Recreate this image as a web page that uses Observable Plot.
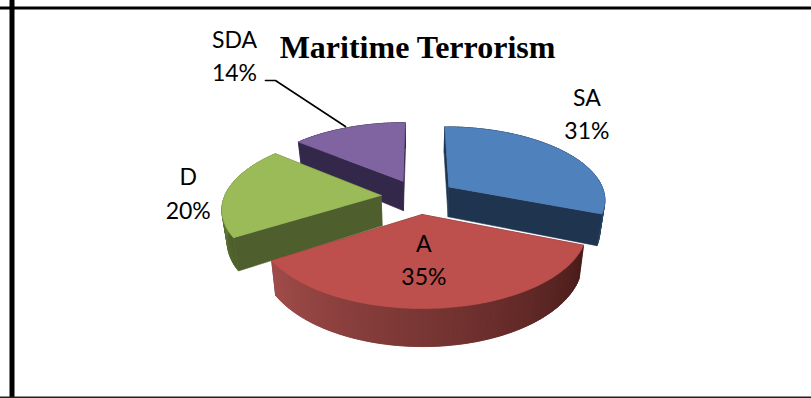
<!DOCTYPE html>
<html>
<head>
<meta charset="utf-8">
<style>html,body{margin:0;padding:0;background:#fff}svg{display:block}</style>
<script src="https://cdn.jsdelivr.net/npm/d3@7"></script>
<script src="https://cdn.jsdelivr.net/npm/@observablehq/plot@0.6"></script>
</head>
<body>
<script>
// Responses on maritime terrorism, in percent
const categories = ["SA", "A", "D", "SDA"];
const shares = [31, 35, 20, 14];
const chartTitle = "Maritime Terrorism";

// Face colours per slice: top, cut side, rim at its clockwise start and end
const topColors = ["#4f81bd", "#bd4f4c", "#9bbb59", "#8064a2"];
const cutColors = ["#1f344f", "#4f1f1e", "#4e5f2d", "#33274a"];
const rimStart = ["#1f344f", "#4a1c1a", "#4e5f2d", "#33274a"];
const rimEnd = ["#2a4668", "#a04c4a", "#7d9a44", "#33274a"];

// Oblique view of the exploded pie
const view = {cx: 418, cy: 196, rx: 156.5, ry: 72.5, persp: 0.16, depth: 30.5, converge: 0.973, explode: 0.24};
const width = 811, height = 398;

// Maps a point on the pie's plane to chart units; z is 0 on top and 1 on the base
function project(u, v, z = 0) {
  const w = 1 + view.persp * v;
  const shrink = z ? view.converge : 1;
  return {
    x: view.cx + (view.rx * u / w) * shrink,
    y: view.cy - (view.ry * v) / w + (z * view.depth) / w
  };
}

// Slice angles run clockwise from twelve o'clock
const total = d3.sum(shares);
let running = 0;
const slices = categories.map((name, i) => {
  const a0 = (running / total) * 2 * Math.PI;
  running += shares[i];
  const a1 = (running / total) * 2 * Math.PI;
  const mid = (a0 + a1) / 2;
  return {name, share: shares[i], i, a0, a1, mid,
    ox: view.explode * Math.sin(mid), oy: view.explode * Math.cos(mid)};
});

const rimAt = (s, a, z = 0) => project(s.ox + Math.sin(a), s.oy + Math.cos(a), z);
const apexAt = (s, z = 0) => project(s.ox, s.oy, z);

// Builds every face back to front as closed outlines
const points = [];
let faceId = 0;
function addFace(outline, color) {
  const id = faceId++;
  for (const p of [...outline, outline[0]]) points.push({x: p.x, y: p.y, id, color});
}

for (const s of [slices[3], slices[0], slices[2], slices[1]]) {
  // A cut side faces the viewer when its outward normal points down the plane
  const cuts = [
    {a: s.a0, toward: Math.sin(s.a0) < -1e-6},
    {a: s.a1, toward: Math.sin(s.a1) > 1e-6}
  ];
  const cutFace = (a) => [apexAt(s), rimAt(s, a), rimAt(s, a, 1), apexAt(s, 1)];
  cuts.filter((c) => !c.toward).forEach((c) => addFace(cutFace(c.a), cutColors[s.i]));

  // The rim is shaded in overlapping strips so no seam shows between them
  const steps = Math.ceil(((s.a1 - s.a0) * 180) / Math.PI / 1.5);
  const stepSize = (s.a1 - s.a0) / steps;
  const shade = d3.interpolateRgb(rimStart[s.i], rimEnd[s.i]);
  for (let k = 0; k < steps; k++) {
    const b0 = s.a0 + stepSize * k;
    const b1 = Math.min(s.a1, b0 + 2 * stepSize);
    const b = (b0 + b1) / 2;
    addFace(
      [rimAt(s, b0), rimAt(s, b), rimAt(s, b1), rimAt(s, b1, 1), rimAt(s, b, 1), rimAt(s, b0, 1)],
      shade(k / (steps - 1))
    );
  }
  cuts.filter((c) => c.toward).forEach((c) => addFace(cutFace(c.a), cutColors[s.i]));

  const arc = d3.range(steps + 1).map((k) => rimAt(s, s.a0 + stepSize * k));
  addFace([apexAt(s), ...arc], topColors[s.i]);
}

// Label placement relative to each slice's rim midpoint
const labelShift = [[24, -39], [-7, 0.5], [-39, 0.5], [-114, -74]];
const labels = slices.map((s, i) => {
  const anchor = i === 1
    ? project(s.ox + 0.5 * Math.sin(s.mid), s.oy + 0.5 * Math.cos(s.mid))
    : rimAt(s, s.mid);
  return {text: `${s.name}\n${s.share}%`, x: anchor.x + labelShift[i][0], y: anchor.y + labelShift[i][1]};
});

// Leader from the SDA label to its slice
const sdaRim = rimAt(slices[3], slices[3].mid);
const leader = [
  {x: labels[3].x + 31, y: labels[3].y + 27},
  {x: labels[3].x + 41, y: labels[3].y + 27},
  {x: sdaRim.x - 3, y: sdaRim.y - 1}
];

const chart = Plot.plot({
  width, height,
  margin: 0,
  x: {domain: [0, width], range: [0, width], axis: null},
  y: {domain: [0, height], range: [0, height], axis: null},
  color: {type: "identity"},
  style: {background: "#fff", overflow: "hidden"},
  marks: [
    Plot.ruleX([11.5], {stroke: "#000", strokeWidth: 5}),
    Plot.ruleY([7.5], {stroke: "#000", strokeWidth: 3}),
    Plot.ruleY([397], {stroke: "#222", strokeWidth: 2}),
    Plot.line(points, {x: "x", y: "y", z: "id", fill: "color", stroke: "color", strokeWidth: 0.6, curve: "linear"}),
    Plot.line(leader, {x: "x", y: "y", stroke: "#000", strokeWidth: 1.6, curve: "linear"}),
    Plot.text(labels, {x: "x", y: "y", text: "text", fontFamily: "Lato", fontSize: 23, lineHeight: 1.45, fill: "#000"}),
    Plot.text([chartTitle], {x: [417], y: [47], fontFamily: "Liberation Serif", fontWeight: "bold", fontSize: 32, fill: "#000"})
  ]
});
document.body.appendChild(chart);
</script>
</body>
</html>
